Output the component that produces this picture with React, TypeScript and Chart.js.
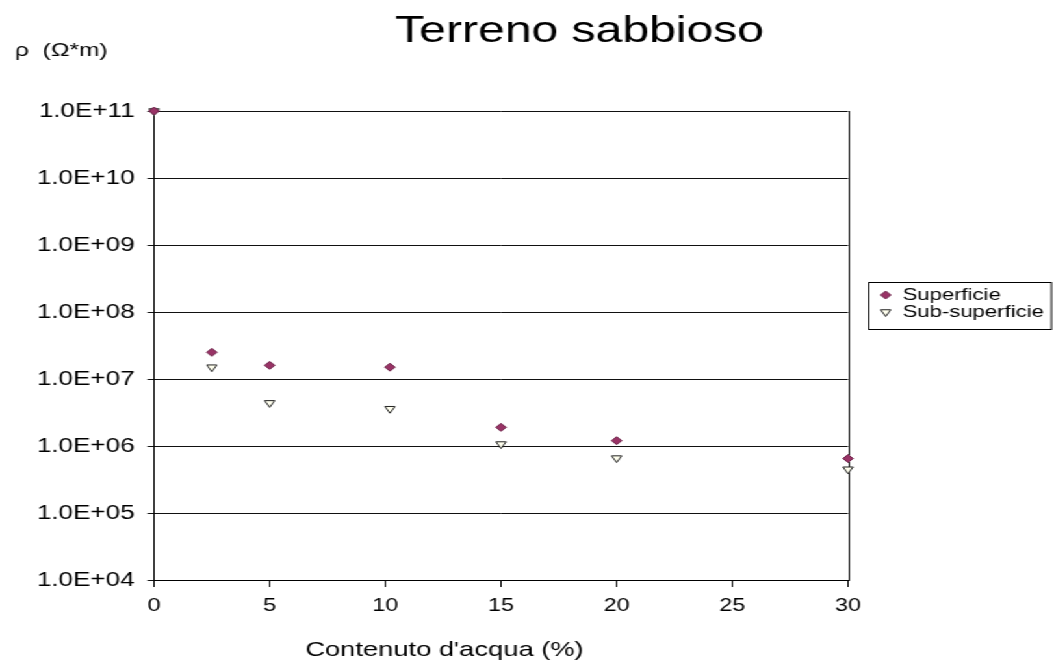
import React, { useEffect, useRef } from 'react';
import { Chart, registerables } from 'chart.js';
import { drawPoint } from 'chart.js/helpers';

Chart.register(...registerables);

// Texts
const chartTitle = 'Terreno sabbioso';
const xAxisTitle = "Contenuto d'acqua (%)";
const yAxisUnit = 'ρ  (Ω*m)';
const seriesLabels = ['Superficie', 'Sub-superficie'];

// Water content (%) for each sample
const waterContent = [0, 2.5, 5, 10.2, 15, 20, 30];
// Resistivity (Ω·m)
const superficie = [1e11, 2.5e7, 1.6e7, 1.5e7, 1.9e6, 1.2e6, 6.5e5];
const subSuperficie = [1e11, 1.5e7, 4.4e6, 3.6e6, 1.07e6, 6.6e5, 4.5e5];

// Axis ticks
const xTickValues = [0, 5, 10, 15, 20, 25, 30];
const yTickValues = [1e4, 1e5, 1e6, 1e7, 1e8, 1e9, 1e10, 1e11];
const yTickLabels = ['1.0E+04', '1.0E+05', '1.0E+06', '1.0E+07', '1.0E+08', '1.0E+09', '1.0E+10', '1.0E+11'];

// Drawing surface: rendered narrower, then widened to the page width
const BASE_W = 811;
const BASE_H = 662;
const STRETCH = 1054 / BASE_W;
const FONT = "Arial, 'Liberation Sans', sans-serif";

const decorations = {
  id: 'decorations',
  beforeDatasetsDraw(chart: any) {
    // right edge of the plot frame (left, top and bottom come from axes and grid)
    const { ctx, chartArea: a } = chart;
    ctx.save();
    ctx.strokeStyle = '#000';
    ctx.lineWidth = 1;
    const r = Math.round(a.right) + 0.5;
    ctx.beginPath();
    ctx.moveTo(r, Math.round(a.top));
    ctx.lineTo(r, Math.round(a.bottom) + 1);
    ctx.stroke();
    ctx.restore();
  },
  afterDraw(chart: any) {
    const { ctx } = chart;
    ctx.save();
    ctx.fillStyle = '#000';

    // Title
    ctx.font = `37px ${FONT}`;
    ctx.textAlign = 'center';
    ctx.textBaseline = 'alphabetic';
    ctx.fillText(chartTitle, 446, 42);

    // Unit of the vertical axis
    ctx.font = `19px ${FONT}`;
    ctx.textAlign = 'left';
    ctx.fillText(yAxisUnit, 11.5, 56);

    // Horizontal axis title
    ctx.font = `21px ${FONT}`;
    ctx.textAlign = 'center';
    ctx.fillText(xAxisTitle, 342, 656);

    // Legend
    const bx = 668.5, by = 282.5, bw = 140.5, bh = 47;
    ctx.strokeStyle = '#000';
    ctx.lineWidth = 1;
    ctx.strokeRect(bx, by, bw, bh);
    const rows = [295, 312];
    chart.data.datasets.forEach((ds: any, i: number) => {
      const y = rows[i];
      ctx.save();
      ctx.fillStyle = ds.pointBackgroundColor;
      ctx.strokeStyle = ds.pointBorderColor;
      ctx.lineWidth = ds.pointBorderWidth;
      drawPoint(ctx, {
        pointStyle: ds.pointStyle,
        rotation: ds.pointRotation || 0,
        radius: ds.pointRadius,
        borderWidth: ds.pointBorderWidth,
      }, 681.5, y);
      ctx.restore();
      ctx.fillStyle = '#000';
      ctx.font = `17px ${FONT}`;
      ctx.textAlign = 'left';
      ctx.textBaseline = 'middle';
      ctx.fillText(ds.label, 694.5, y);
    });
    ctx.restore();
  },
};

export default function App() {
  const canvasRef = useRef<HTMLCanvasElement | null>(null);

  useEffect(() => {
    const canvas = canvasRef.current;
    if (!canvas) return;
    const chart = new Chart(canvas, {
      type: 'scatter',
      data: {
        datasets: [
          {
            label: seriesLabels[0],
            data: waterContent.map((x, i) => ({ x, y: superficie[i] })),
            pointStyle: 'rectRot',
            pointRadius: 4,
            pointBackgroundColor: '#993366',
            pointBorderColor: '#6b2147',
            pointBorderWidth: 1,
            showLine: false,
            clip: false,
          },
          {
            label: seriesLabels[1],
            data: waterContent.map((x, i) => ({ x, y: subSuperficie[i] })),
            pointStyle: 'triangle',
            pointRotation: 180,
            pointRadius: 4.5,
            pointBackgroundColor: '#ffffee',
            pointBorderColor: '#222',
            pointBorderWidth: 1,
            showLine: false,
            clip: false,
          },
        ],
      },
      options: {
        responsive: false,
        animation: false,
        devicePixelRatio: 1,
        layout: { padding: { left: 0, top: 111, right: BASE_W - 652.5, bottom: 0 } },
        plugins: {
          legend: { display: false },
          title: { display: false },
          tooltip: { enabled: false },
        },
        scales: {
          x: {
            type: 'linear',
            min: 0,
            max: 30,
            afterBuildTicks: (scale: any) => {
              scale.ticks = xTickValues.map((v) => ({ value: v }));
            },
            afterFit: (scale: any) => {
              scale.height = BASE_H - 580;
            },
            ticks: {
              color: '#000',
              font: { family: FONT, size: 18 },
              padding: 8,
              maxRotation: 0,
              autoSkip: false,
            },
            grid: { drawOnChartArea: false, drawTicks: true, tickLength: 7, color: '#000' },
            border: { display: true, color: '#000' },
          },
          y: {
            type: 'logarithmic',
            min: 1e4,
            max: 1e11,
            afterBuildTicks: (scale: any) => {
              scale.ticks = yTickValues.map((v) => ({ value: v }));
            },
            afterFit: (scale: any) => {
              scale.width = 118.5;
            },
            ticks: {
              color: '#000',
              font: { family: FONT, size: 20 },
              padding: 10,
              autoSkip: false,
              callback: (value: any) => {
                const i = yTickValues.indexOf(Number(value));
                return i >= 0 ? yTickLabels[i] : '';
              },
            },
            grid: { color: '#111', tickLength: 5, drawTicks: true },
            border: { display: true, color: '#000' },
          },
        },
      },
      plugins: [decorations],
    } as any);
    return () => chart.destroy();
  }, []);

  return (
    <div
      style={{
        position: 'fixed',
        left: 0,
        top: 0,
        width: BASE_W,
        height: BASE_H,
        background: '#fff',
        transform: `scaleX(${STRETCH})`,
        transformOrigin: '0 0',
      }}
    >
      <canvas ref={canvasRef} width={BASE_W} height={BASE_H} />
    </div>
  );
}
